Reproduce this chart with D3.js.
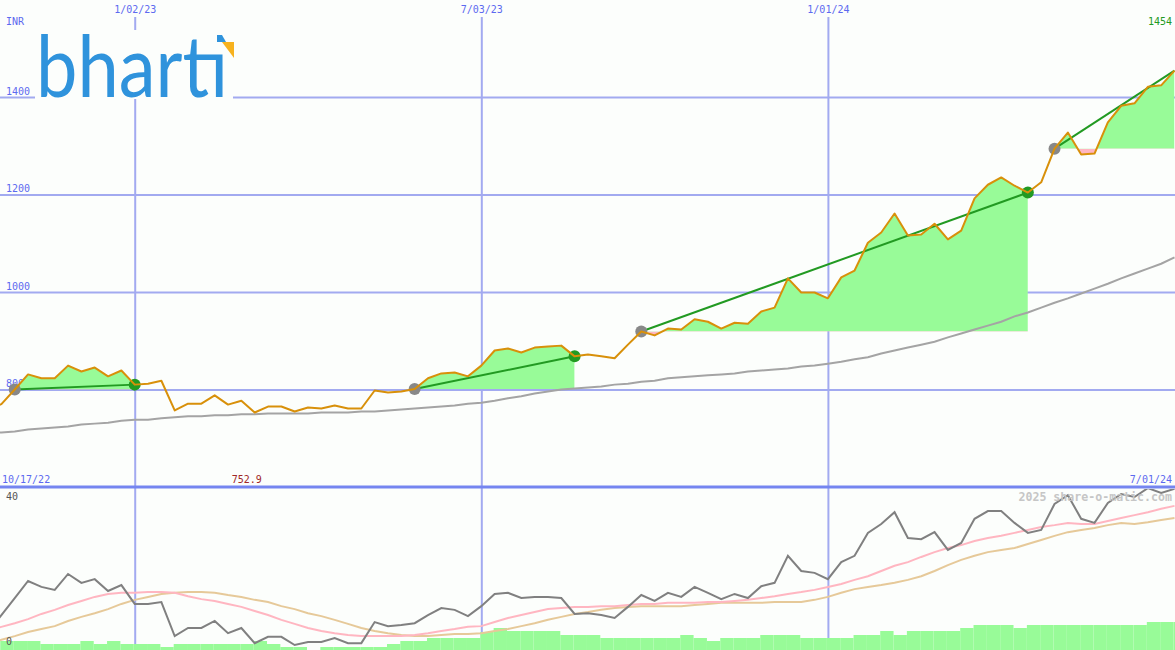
<!DOCTYPE html>
<html><head><meta charset="utf-8">
<script src="https://cdn.jsdelivr.net/npm/d3@7"></script>
<style>
html,body{margin:0;padding:0;background:#fcfefc;}
svg{display:block;}
</style></head><body>
<svg id="c" width="1175" height="650"></svg>
<script>
// ---------- data ----------
const firstWeek = "2022-10-17", lastWeek = "2024-07-01"; // weekly (Mondays)
const price = [760,770,800,831,823,823,849,837,845,827,
 839,810,812,818,757,771,771,788,769,777,
 752.9,765,765,755,763,761,767,761,761,798,
 794,796,801,823,833,835,827,849,880,884,
 876,886,888,890,868,872,868,864,892,919,
 911,925,923,944,939,925,937,935,960,968,
 1028,999,999,987,1030,1044,1101,1122,1161,1116,
 1118,1140,1108,1126,1192,1220,1235,1218,1204,1225,
 1294,1327,1282,1284,1348,1382,1387,1421,1424,1454];
const longAvg = [710,712,714,718,720,722,724,728,730,732,
 736,738,738,741,743,745,745,747,747,749,
 749,751,751,751,751,753,753,753,755,755,
 757,759,761,763,765,767,771,773,777,782,
 786,792,796,800,802,804,806,810,812,816,
 818,823,825,827,829,831,833,837,839,841,
 843,847,849,853,857,862,866,874,880,886,
 892,898,907,915,923,931,939,950,958,968,
 978,987,997,1007,1017,1028,1038,1048,1058,1071];
const osc = [3.5,8.1,12.7,17.3,15.7,14.9,19.2,16.8,17.8,14.6,
 16.2,11.1,11.1,11.6,2.4,4.6,4.6,6.5,3.2,4.6,
 0.5,2.2,2.2,0,0.8,0.8,1.9,0.5,0.5,6.2,
 5.1,5.4,5.9,8.1,10.0,9.5,7.8,10.5,13.8,14.1,
 12.7,13.0,13.0,12.7,8.4,8.6,8.1,7.3,10.3,13.5,
 11.9,14.1,13.0,15.7,14.1,12.4,13.8,12.7,15.9,16.8,
 24.1,20.0,19.5,17.8,22.4,24.1,30.3,32.7,35.9,28.9,
 28.6,30.5,25.7,27.6,34.1,36.2,36.2,33.0,30.3,31.1,
 38.1,40.5,34.1,33.0,38.4,40.8,40.0,42.4,41.1,42.2];
const oscFast = [3.8,4.9,5.9,7.0,8.4,9.5,10.8,11.9,13.0,13.8,
 14.1,14.1,14.3,14.3,14.1,13.2,12.4,11.9,11.1,10.3,
 9.2,8.1,6.8,5.7,4.6,3.8,3.2,2.7,2.4,2.4,
 2.4,2.4,2.7,3.2,3.8,4.3,4.9,5.1,6.2,7.3,
 8.1,8.9,9.7,10.0,10.3,10.3,10.5,10.5,10.8,11.1,
 11.1,11.4,11.4,11.4,11.6,11.6,11.9,12.2,12.7,13.2,
 13.8,14.3,14.9,15.7,16.5,17.6,18.6,20.0,21.4,22.4,
 23.8,25.1,26.2,27.0,28.1,28.9,29.5,30.3,31.1,31.9,
 32.4,33.0,32.7,32.7,33.5,34.3,35.1,35.9,36.8,37.6];
const oscSlow = [0.3,1.4,2.4,3.5,4.3,5.1,6.5,7.6,8.6,9.7,
 11.1,12.2,13.0,13.8,14.1,14.3,14.3,14.1,13.5,13.0,
 12.2,11.6,10.5,9.7,8.6,7.8,6.8,5.7,4.6,3.8,
 3.2,2.7,2.4,2.4,2.7,3.0,3.0,3.2,3.8,4.3,
 5.1,5.9,6.8,7.6,8.4,8.9,9.5,10.0,10.3,10.5,
 10.5,10.5,10.5,10.8,11.1,11.4,11.4,11.4,11.4,11.6,
 11.6,11.6,12.2,13.0,14.1,15.1,15.7,16.2,16.8,17.6,
 18.6,20.0,21.6,23.0,24.1,25.1,25.7,26.2,27.3,28.4,
 29.5,30.5,31.1,31.6,32.4,33.0,32.7,33.2,33.8,34.3];
const volume = [9,9,9,9,6,6,6,9,6,9,
 6,6,6,3,6,6,6,6,6,6,
 9,6,3,3,0,3,3,3,3,3,
 6,9,9,12,12,12,12,18,22,19,
 19,19,19,15,15,15,12,12,12,12,
 12,12,15,12,9,12,12,12,15,15,
 15,12,12,12,12,15,15,19,15,19,
 19,19,19,22,25,25,25,22,25,25,
 25,25,25,25,25,25,25,28,28,28];
const signalStart = ["2022-10-31","2023-05-29","2023-09-25","2024-04-29"];
const signalEnd   = ["2023-01-02","2023-08-21","2024-04-15","2024-07-01"];
const signalOpen  = [false,false,false,true];
const yTicks = [800,1000,1200,1400];
const xTickDates  = ["2023-01-02","2023-07-03","2024-01-01"];
const xTickLabels = ["1/02/23","7/03/23","1/01/24"];
const oscTicks = [0,40];
const currency = "INR";
const startLabel = "10/17/22", endLabel = "7/01/24";
const watermark = "2025 share-o-matic.com";

// ---------- setup ----------
const W = 1175, H = 650;
const parse = d3.utcParse("%Y-%m-%d");
const dates = d3.utcMonday.range(parse(firstWeek), d3.utcDay.offset(parse(lastWeek), 1));
const rows = dates.map((d, i) => ({date: d, price: price[i], avg: longAvg[i], osc: osc[i], fast: oscFast[i], slow: oscSlow[i], vol: volume[i]}));

const x = d3.scaleUtc().domain([Date.UTC(2022,9,23), Date.UTC(2024,6,1)]).range([-0.5, 1174.5]);
const y = d3.scaleLinear().domain([800, 1400]).range([389.5, 97]);
const yOsc = d3.scaleLinear().domain([0, 40]).range([645, 497]);
const yVol = d3.scaleLinear().domain([0, 40]).range([650, 610]);

const BG = "#fcfefc", GRID = "#a2aaf0", LBL = "#5c6af0", MONO = "'DejaVu Sans Mono', monospace";
const svg = d3.select("#c");
svg.append("rect").attr("width", W).attr("height", H).attr("fill", BG);
const defs = svg.append("defs");
defs.append("clipPath").attr("id", "mainClip").append("rect").attr("x", 0).attr("y", 0).attr("width", W).attr("height", 486);
defs.append("clipPath").attr("id", "oscClip").append("rect").attr("x", 0).attr("y", 489).attr("width", W).attr("height", H - 489);

// ---------- grid ----------
const hg = svg.append("g").attr("class", "hgrid")
  .call(d3.axisRight(y).tickValues(yTicks).tickSize(W).tickFormat(d3.format("d")));
hg.select(".domain").remove();
hg.selectAll("line").attr("stroke", GRID).attr("stroke-width", 2);
hg.selectAll("text").attr("x", 6).attr("dy", -3).attr("text-anchor", "start")
  .attr("fill", LBL).attr("font-family", MONO).attr("font-size", 10);

const vg = svg.append("g").attr("class", "vgrid").attr("transform", "translate(0,17)")
  .call(d3.axisTop(x).tickValues(xTickDates.map(parse)).tickSize(-(H - 17)).tickPadding(4)
    .tickFormat((d, i) => xTickLabels[i]));
vg.select(".domain").remove();
vg.selectAll("line").attr("stroke", GRID).attr("stroke-width", 2);
vg.selectAll("text").attr("fill", LBL).attr("font-family", MONO).attr("font-size", 10);

// ---------- logo ----------
const logo = svg.append("g");
logo.append("rect").attr("x", 35).attr("y", 30).attr("width", 198).attr("height", 69).attr("fill", BG);
logo.append("text").attr("x", 36).attr("y", 97).attr("font-family", "Lato").attr("font-size", 86)
  .attr("fill", "#2f93dc").attr("textLength", 192).attr("lengthAdjust", "spacingAndGlyphs").text("bhartı");
logo.append("polygon").attr("points", "217,35 222,35 226,42 217,42").attr("fill", "#2f93dc");
logo.append("polygon").attr("points", "222,42 234,42 234,58").attr("fill", "#f7b21e");

// ---------- main panel ----------
const main = svg.append("g").attr("clip-path", "url(#mainClip)");
const idx = s => d3.bisectLeft(dates.map(d => +d), +parse(s));

signalStart.forEach((s, k) => {
  const i0 = idx(s), i1 = idx(signalEnd[k]);
  const base = price[i0];
  const seg = rows.slice(i0, i1 + 1);
  const xs = x(dates[i0]), xe = x(dates[i1]);
  const area = d3.area().x(d => x(d.date)).y0(y(base)).y1(d => y(d.price));
  defs.append("clipPath").attr("id", "up" + k).append("rect")
    .attr("x", xs).attr("y", 0).attr("width", xe - xs).attr("height", y(base));
  defs.append("clipPath").attr("id", "dn" + k).append("rect")
    .attr("x", xs).attr("y", y(base)).attr("width", xe - xs).attr("height", 500);
  main.append("path").datum(seg).attr("d", area).attr("fill", "#98fb98").attr("clip-path", `url(#up${k})`);
  main.append("path").datum(seg).attr("d", area).attr("fill", "#ffb6c1").attr("clip-path", `url(#dn${k})`);
});

main.append("path").datum(rows)
  .attr("d", d3.line().x(d => x(d.date)).y(d => y(d.avg)))
  .attr("fill", "none").attr("stroke", "#a4a4a4").attr("stroke-width", 2);

signalStart.forEach((s, k) => {
  const i0 = idx(s), i1 = idx(signalEnd[k]);
  const pts = [{date: dates[i0], v: price[i0]}, {date: dates[i1], v: price[i1]}];
  main.append("path").datum(pts)
    .attr("d", d3.line().x(d => x(d.date)).y(d => y(d.v)))
    .attr("fill", "none").attr("stroke", "#229a22").attr("stroke-width", 2);
  main.append("circle").attr("cx", x(dates[i0])).attr("cy", y(price[i0])).attr("r", 6).attr("fill", "#888");
  if (!signalOpen[k])
    main.append("circle").attr("cx", x(dates[i1])).attr("cy", y(price[i1])).attr("r", 6).attr("fill", "#229a22");
});

main.append("path").datum(rows)
  .attr("d", d3.line().x(d => x(d.date)).y(d => y(d.price)))
  .attr("fill", "none").attr("stroke", "#d8900a").attr("stroke-width", 2).attr("stroke-linejoin", "round");

// labels main
const txt = (t, xx, yy, anchor, fill, size, weight) => svg.append("text").attr("x", xx).attr("y", yy)
  .attr("text-anchor", anchor).attr("fill", fill).attr("font-family", MONO).attr("font-size", size || 10)
  .attr("font-weight", weight || "normal").text(t);
txt(currency, 6, 25, "start", LBL);
txt(d3.format("d")(price[price.length - 1]), 1172, 25, "end", "#229a22");
txt(startLabel, 2, 483, "start", LBL);
txt(endLabel, 1172, 483, "end", LBL);
const minV = d3.min(price), minI = price.indexOf(minV);
txt(d3.format(".1f")(minV), x(dates[minI]) - 8, 483, "middle", "#a02828");

// separator
svg.append("line").attr("x1", 0).attr("x2", W).attr("y1", 487).attr("y2", 487).attr("stroke", "#7585f0").attr("stroke-width", 3);

// ---------- indicator panel ----------
const low = svg.append("g").attr("clip-path", "url(#oscClip)");
low.selectAll("rect.vol").data(rows).join("rect").attr("class", "vol")
  .attr("x", (d, i) => x(d.date) - 1)
  .attr("width", (d, i) => (i < rows.length - 1 ? x(dates[i + 1]) : x(d.date) + 13.4) - x(d.date))
  .attr("y", d => yVol(d.vol)).attr("height", d => yVol(0) - yVol(d.vol)).attr("fill", "#98fb98");
const oline = key => d3.line().x(d => x(d.date)).y(d => yOsc(d[key]));
low.append("path").datum(rows).attr("d", oline("slow")).attr("fill", "none").attr("stroke", "#e6c999").attr("stroke-width", 2);
low.append("path").datum(rows).attr("d", oline("fast")).attr("fill", "none").attr("stroke", "#ffb6c1").attr("stroke-width", 2);
low.append("path").datum(rows).attr("d", oline("osc")).attr("fill", "none").attr("stroke", "#808080").attr("stroke-width", 2);

oscTicks.forEach(t => txt(String(t), 6, yOsc(t) + (t === 0 ? 0 : 3), "start", "#555"));
txt(watermark, 1172, 501, "end", "#c6c6c6", 11.6, "bold");
</script>
</body></html>
